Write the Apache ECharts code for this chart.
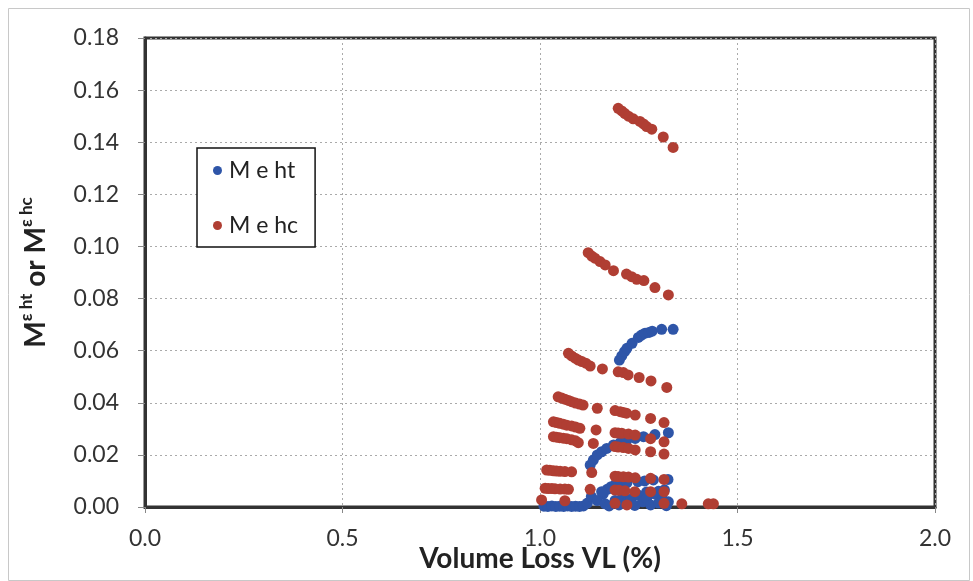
<!DOCTYPE html>
<html>
<head>
<meta charset="utf-8">
<script src="https://cdn.jsdelivr.net/npm/echarts@6/dist/echarts.min.js"></script>
<style>
  html, body { margin: 0; padding: 0; background: #fff; }
  #chart { width: 973px; height: 581px; }
</style>
</head>
<body>
<div id="chart"></div>
<script>
// Axis ticks
const xTicks = [0.0, 0.5, 1.0, 1.5, 2.0];
const yTicks = [0.00, 0.02, 0.04, 0.06, 0.08, 0.10, 0.12, 0.14, 0.16, 0.18];

// M e ht  (volume loss %, value)
const htUpper = [[1.201,0.0564],[1.207,0.0580],[1.214,0.0596],[1.220,0.0609],[1.233,0.0628],[1.249,0.0651],
  [1.257,0.0660],[1.266,0.0667],[1.276,0.0670],[1.284,0.0675],[1.308,0.0682],[1.337,0.0682]];
const htMiddle = [[1.127,0.0161],[1.135,0.0180],[1.145,0.0200],[1.156,0.0212],[1.169,0.0225],[1.186,0.0238],
  [1.203,0.0247],[1.219,0.0254],[1.241,0.0263],[1.262,0.0270],[1.291,0.0278],[1.325,0.0285]];
const htLower = [[1.160,0.0050],[1.170,0.0068],[1.180,0.0078],[1.190,0.0085],[1.205,0.0090],[1.220,0.0093],
  [1.248,0.0097],[1.265,0.0100],[1.287,0.0104],[1.324,0.0106]];
const htLow2 = [[1.210,0.0050],[1.240,0.0055],[1.270,0.0058],[1.300,0.0060],[1.315,0.0066]];
const htBase = [[1.010,0.0003],[1.020,0.0002],[1.030,0.0004],[1.040,0.0002],[1.050,0.0003],[1.060,0.0002],
  [1.070,0.0004],[1.080,0.0002],[1.090,0.0003],[1.100,0.0002],[1.110,0.0004],[1.120,0.0015],[1.130,0.0040],
  [1.145,0.0025],[1.156,0.0059],[1.165,0.0012],[1.175,0.0004],[1.190,0.0025],[1.200,0.0008],[1.210,0.0040],
  [1.220,0.0018],[1.230,0.0030],[1.240,0.0006],[1.250,0.0045],[1.260,0.0020],[1.270,0.0033],[1.280,0.0008],
  [1.290,0.0050],[1.300,0.0015],[1.310,0.0030],[1.320,0.0005],[1.325,0.0020]];

// M e hc
const hcTop = [[1.198,0.153],[1.207,0.152],[1.215,0.151],[1.224,0.150],[1.236,0.149],[1.253,0.148],
  [1.262,0.147],[1.270,0.146],[1.283,0.145],[1.312,0.142],[1.337,0.138]];
const hcSecond = [[1.122,0.0976],[1.131,0.0963],[1.139,0.0955],[1.152,0.0942],[1.165,0.0929],[1.186,0.0907],
  [1.219,0.0894],[1.232,0.0884],[1.245,0.0874],[1.263,0.0869],[1.291,0.0842],[1.325,0.0814]];
const hcThird = [[1.072,0.0590],[1.080,0.0580],[1.089,0.0571],[1.097,0.0564],[1.106,0.0558],[1.116,0.0552],
  [1.127,0.0541],[1.158,0.0530],[1.198,0.0519],[1.211,0.0516],[1.223,0.0507],[1.251,0.0497],[1.281,0.0484],[1.321,0.0459]];
const hcRowA = [[1.046,0.0423],[1.055,0.0418],[1.063,0.0414],[1.072,0.0409],[1.080,0.0404],[1.090,0.0399],
  [1.100,0.0395],[1.109,0.0391],[1.145,0.0379],[1.190,0.0370],[1.203,0.0366],[1.211,0.0363],[1.219,0.0360],
  [1.241,0.0353],[1.280,0.0340],[1.314,0.0324]];
const hcRowB = [[1.034,0.0327],[1.042,0.0324],[1.050,0.0321],[1.059,0.0318],[1.068,0.0314],[1.080,0.0311],
  [1.090,0.0307],[1.101,0.0302],[1.142,0.0296],[1.190,0.0285],[1.198,0.0284],[1.207,0.0283],[1.224,0.0280],
  [1.241,0.0276],[1.280,0.0262],[1.314,0.0250]];
const hcRowC = [[1.034,0.0270],[1.042,0.0268],[1.050,0.0266],[1.059,0.0264],[1.068,0.0262],[1.080,0.0258],
  [1.090,0.0254],[1.097,0.0247],[1.135,0.0244],[1.190,0.0232],[1.198,0.0230],[1.211,0.0228],[1.224,0.0225],
  [1.241,0.0219],[1.280,0.0212],[1.314,0.0203]];
const hcRowD = [[1.017,0.0142],[1.025,0.0141],[1.034,0.0139],[1.042,0.0138],[1.051,0.0137],[1.063,0.0136],
  [1.080,0.0135],[1.131,0.0132],[1.190,0.0118],[1.198,0.0117],[1.211,0.0116],[1.224,0.0115],[1.241,0.0112],
  [1.280,0.0110],[1.314,0.0106]];
const hcRowE = [[1.013,0.0072],[1.021,0.0071],[1.030,0.0071],[1.038,0.0070],[1.051,0.0069],[1.063,0.0069],
  [1.072,0.0068],[1.127,0.0068],[1.190,0.0065],[1.200,0.0064],[1.215,0.0062],[1.240,0.0059],[1.280,0.0059],[1.314,0.0059]];
const hcRowF = [[1.004,0.0027],[1.063,0.0024],[1.190,0.0014],[1.220,0.0008],[1.314,0.0014],
  [1.359,0.0012],[1.426,0.0012],[1.439,0.0012]];

const htData = [].concat(htUpper, htMiddle, htLower, htLow2, htBase);
const hcData = [].concat(hcTop, hcSecond, hcThird, hcRowA, hcRowB, hcRowC, hcRowD, hcRowE, hcRowF);

const BLUE = '#2e55a8';
const RED = '#b03e33';
const FONT = 'Lato, "Open Sans", sans-serif';

const chart = echarts.init(document.getElementById('chart'), null, { renderer: 'canvas' });
chart.setOption({
  backgroundColor: '#ffffff',
  animation: false,
  graphic: [{
    type: 'rect', left: 6, top: 6, z: -10,
    shape: { width: 961, height: 572 },
    style: { fill: 'none', stroke: '#c8c8c8', lineWidth: 1 }
  }],
  grid: {
    left: 145, right: 38, top: 38, bottom: 74,
    outerBoundsMode: 'none', containLabel: false,
    show: true, borderColor: '#333', borderWidth: 3, backgroundColor: 'transparent'
  },
  legend: {
    orient: 'vertical', left: 197, top: 148,
    backgroundColor: '#fff', borderColor: '#111', borderWidth: 1.5,
    padding: [11, 17, 10, 16], itemGap: 32,
    itemWidth: 9, itemHeight: 9, icon: 'circle',
    textStyle: { fontFamily: FONT, fontSize: 23, color: '#222', padding: [0, 0, 0, 2] },
    data: ['M e ht', 'M e hc']
  },
  xAxis: {
    type: 'value', min: xTicks[0], max: xTicks[xTicks.length - 1], interval: 0.5,
    name: 'Volume Loss VL (%)', nameLocation: 'middle', nameGap: 38, nameMoveOverlap: false,
    nameTextStyle: { fontFamily: FONT, fontWeight: 'bold', fontSize: 28, color: '#222' },
    axisLine: { show: true, lineStyle: { color: '#333', width: 3 } },
    axisTick: { show: true, inside: false, length: 6, lineStyle: { color: '#888' } },
    axisLabel: { margin: 20, fontFamily: FONT, fontSize: 23, color: '#333',
      formatter: v => v.toFixed(1) },
    splitLine: { show: true, lineStyle: { color: '#aaa', type: [2, 3], width: 1 } }
  },
  yAxis: {
    type: 'value', min: yTicks[0], max: yTicks[yTicks.length - 1], interval: 0.02,
    name: '{m|M}{s|ε ht}{m| or M}{s|ε hc}', nameLocation: 'middle', nameGap: 95, nameMoveOverlap: false,
    nameTextStyle: {
      rich: {
        m: { fontFamily: FONT, fontWeight: 'bold', fontSize: 28, color: '#222', lineHeight: 32, verticalAlign: 'bottom' },
        s: { fontFamily: FONT, fontWeight: 'bold', fontSize: 17, color: '#222', lineHeight: 32, verticalAlign: 'top' }
      }
    },
    axisLine: { show: true, lineStyle: { color: '#333', width: 3 } },
    axisTick: { show: true, inside: false, length: 7, lineStyle: { color: '#888' } },
    axisLabel: { margin: 26, fontFamily: FONT, fontSize: 23, color: '#333',
      formatter: v => v.toFixed(2) },
    splitLine: { show: true, lineStyle: { color: '#aaa', type: [2, 3], width: 1 } }
  },
  series: [
    { name: 'M e ht', type: 'scatter', data: htData, symbol: 'circle', symbolSize: 11,
      itemStyle: { color: BLUE, opacity: 1 } },
    { name: 'M e hc', type: 'scatter', data: hcData, symbol: 'circle', symbolSize: 11,
      itemStyle: { color: RED, opacity: 1 } }
  ]
});
</script>
</body>
</html>
